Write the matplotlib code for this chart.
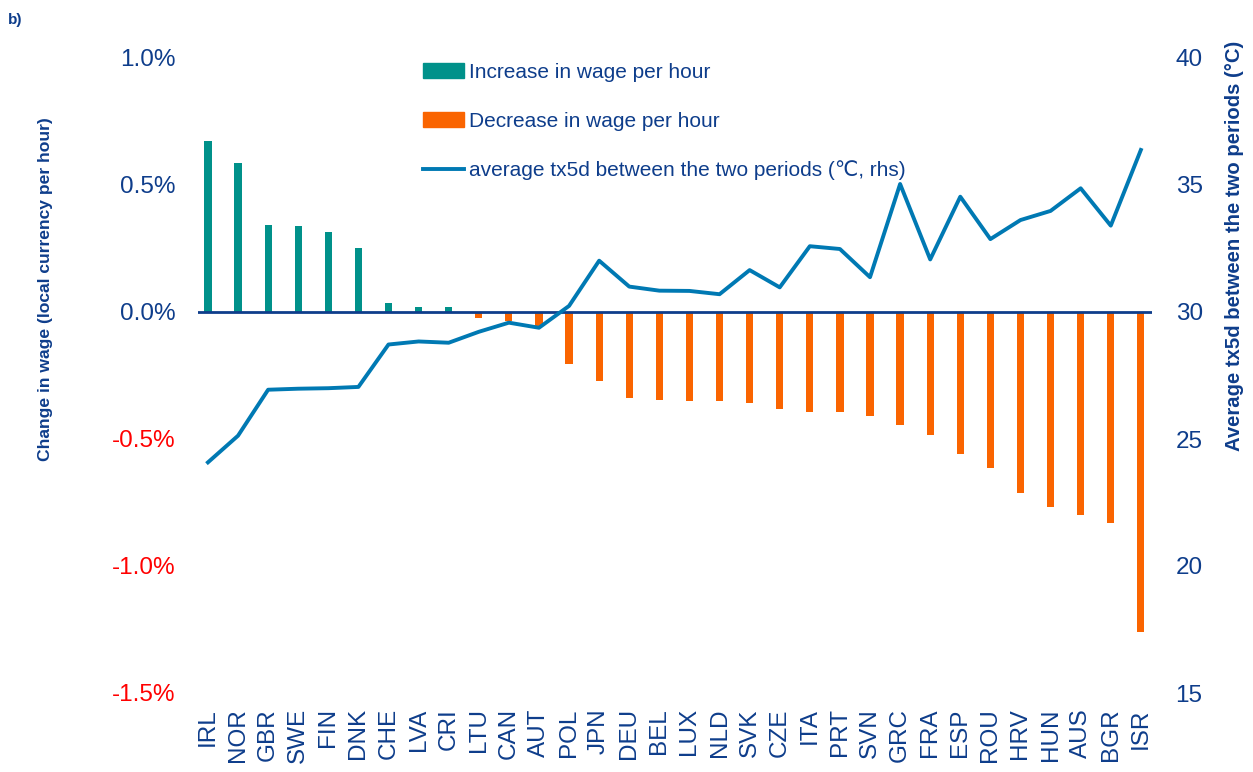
import matplotlib
matplotlib.use("Agg")
import matplotlib.pyplot as plt
from matplotlib import font_manager
from matplotlib.patches import Patch
from matplotlib.lines import Line2D

# Data
countries = ["IRL", "NOR", "GBR", "SWE", "FIN", "DNK", "CHE", "LVA", "CRI", "LTU",
             "CAN", "AUT", "POL", "JPN", "DEU", "BEL", "LUX", "NLD", "SVK", "CZE",
             "ITA", "PRT", "SVN", "GRC", "FRA", "ESP", "ROU", "HRV", "HUN", "AUS",
             "BGR", "ISR"]

# change in wage per hour, %
wage_change = [0.672, 0.587, 0.341, 0.337, 0.315, 0.253, 0.035, 0.021, 0.020, -0.024,
               -0.035, -0.055, -0.205, -0.270, -0.337, -0.348, -0.350, -0.350, -0.357, -0.383,
               -0.393, -0.393, -0.408, -0.443, -0.486, -0.561, -0.614, -0.712, -0.768, -0.800,
               -0.832, -1.260]

# average tx5d between the two periods, deg C (rhs)
tx5d = [24.08, 25.13, 26.94, 26.98, 27.00, 27.05, 28.72, 28.84, 28.79, 29.22,
        29.58, 29.38, 30.24, 32.02, 31.00, 30.84, 30.83, 30.70, 31.65, 30.97,
        32.59, 32.48, 31.37, 35.04, 32.07, 34.54, 32.87, 33.62, 33.98, 34.87,
        33.40, 36.38]

left_ticks = [-1.5, -1.0, -0.5, 0.0, 0.5, 1.0]
right_ticks = [15, 20, 25, 30, 35, 40]

NAVY = "#0E3D8B"
TEAL = "#00918A"
ORANGE = "#FA6400"
LINE_BLUE = "#0079B3"
RED = "#FF0000"

names = {f.name for f in font_manager.fontManager.ttflist}
NARROW = "Liberation Sans Narrow" if "Liberation Sans Narrow" in names else "Liberation Sans"
plt.rcParams["font.family"] = ["Liberation Sans", "DejaVu Sans"]

fig = plt.figure(figsize=(12.53, 7.72), dpi=100)
ax = fig.add_axes([198 / 1253, 1 - 693 / 772, 954 / 1253, 635 / 772])
ax2 = ax.twinx()

x = list(range(len(countries)))
colors = [TEAL if v >= 0 else ORANGE for v in wage_change]
ax.bar(x, wage_change, width=0.24, color=colors, zorder=2)
ax.axhline(0, color=NAVY, lw=2, zorder=3)

ax2.plot(x, tx5d, color=LINE_BLUE, lw=2.8, zorder=4)

ax.set_xlim(-0.33, 31.37)
ax.set_ylim(-1.5, 1.0)
ax2.set_ylim(15, 40)

ax.set_yticks(left_ticks, labels=[f"{v:.1f}%" for v in left_ticks])
for lbl, v in zip(ax.get_yticklabels(), left_ticks):
    lbl.set_color(RED if v < 0 else NAVY)
ax2.set_yticks(right_ticks, labels=[str(v) for v in right_ticks])

ax.set_xticks(x, labels=countries, rotation=90)
ax.tick_params(axis="x", length=0, pad=11, labelsize=17.5, labelcolor=NAVY)
ax.tick_params(axis="y", length=0, pad=16, labelsize=17.5)
ax2.tick_params(axis="y", length=0, pad=17, labelsize=17.5, labelcolor=NAVY)

for a in (ax, ax2):
    for s in a.spines.values():
        s.set_visible(False)

# axis titles
lab1 = ax.set_ylabel("Change in wage (local currency per hour)", color=NAVY,
                     fontweight="bold", family=[NARROW, "Liberation Sans"], fontsize=14)
lab2 = ax2.set_ylabel("Average tx5d between the two periods (\u00b0C)", color=NAVY,
                      fontweight="bold", family=[NARROW, "Liberation Sans"], fontsize=14)
ax.yaxis.set_label_coords(-0.152, 0.636)
ax2.yaxis.set_label_coords(1.076, 0.704)

# size the titles to their length in the reference
renderer = fig.canvas.get_renderer()
for lab, target in ((lab1, 345), (lab2, 410)):
    h = lab.get_window_extent(renderer).height
    lab.set_fontsize(14 * target / h)

handles = [Patch(color=TEAL), Patch(color=ORANGE), Line2D([], [], color=LINE_BLUE, lw=2.8)]
labels = ["Increase in wage per hour", "Decrease in wage per hour",
          "average tx5d between the two periods (\u2103, rhs)"]
fig.legend(handles, labels, loc="upper left", bbox_to_anchor=(423 / 1253, 1 - 63 / 772),
           frameon=False, borderpad=0, borderaxespad=0, handlelength=1.95,
           handleheight=0.75, handletextpad=0.25, labelspacing=1.42,
           prop={"family": [NARROW, "Liberation Sans", "DejaVu Sans"], "size": 15},
           labelcolor=NAVY)

fig.text(8 / 1253, 1 - 20 / 772, "b)", color=NAVY, fontweight="bold", fontsize=11, va="center")

fig.savefig("out.png", dpi=100)
